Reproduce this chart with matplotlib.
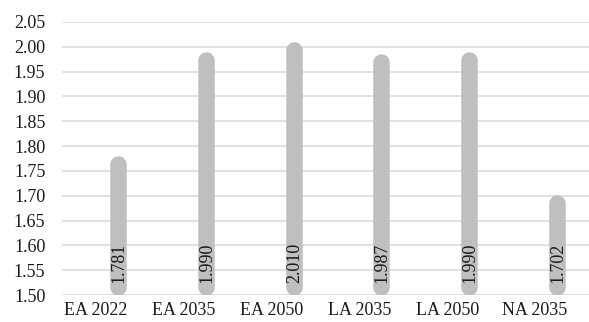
import numpy as np
import matplotlib.pyplot as plt

# scenario values
scenarios = ["EA 2022", "EA 2035", "EA 2050", "LA 2035", "LA 2050", "NA 2035"]
values = [1.781, 1.990, 2.010, 1.987, 1.990, 1.702]
yticks = [1.50, 1.55, 1.60, 1.65, 1.70, 1.75, 1.80, 1.85, 1.90, 1.95, 2.00, 2.05]

base = 1.50
bar_px = 16.5      # capsule width in pixels
offset = 0.25      # bars sit right of the category centre

plt.rcParams['font.family'] = ['Liberation Serif', 'DejaVu Serif']

fig = plt.figure(figsize=(5.89, 3.22), dpi=100)
ax = fig.add_axes([62 / 589, 27 / 322, 527 / 589, 273 / 322])
ax.set_xlim(-0.387, 5.615)
ax.set_ylim(base, 2.05)

for s in ax.spines.values():
    s.set_visible(False)
ax.set_yticks(yticks)
ax.set_yticklabels([f"{t:.2f}" for t in yticks])
ax.yaxis.grid(True, color="#d9d9d9", lw=1.1)
ax.set_axisbelow(True)
ax.tick_params(length=0, labelsize=13, colors="#1a1a1a")
ax.tick_params(axis="y", pad=12)
ax.tick_params(axis="x", pad=5)
ax.set_xticks(np.arange(len(scenarios)))
ax.set_xticklabels(scenarios)

# half the capsule width expressed in data units, so round caps stop at base/value
px_per_unit = ax.transData.transform((0, 1))[1] - ax.transData.transform((0, 0))[1]
r = (bar_px / 2) / px_per_unit
lw_pt = bar_px * 72 / fig.dpi

x = np.arange(len(scenarios)) + offset
for xi, v in zip(x, values):
    ax.plot([xi, xi], [base + r, v - r], color="#bfbfbf", lw=lw_pt,
            solid_capstyle="round", zorder=2)
    ax.annotate(f"{v:.3f}", (xi, base), xytext=(1, 12), textcoords="offset pixels",
                rotation=90, ha="center", va="bottom", fontsize=13,
                color="#1a1a1a", zorder=3)

fig.savefig("out.png", dpi=100)
